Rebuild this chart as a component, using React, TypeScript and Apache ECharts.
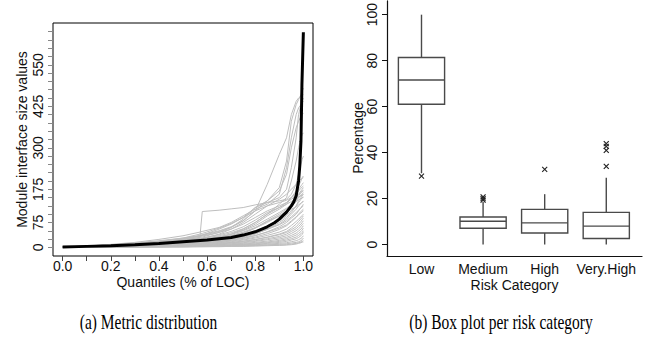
import React, { useEffect, useRef } from "react";
import * as echarts from "echarts";

// ---------- Left panel: metric distribution ----------
const quantiles = [0, 0.1, 0.2, 0.3, 0.4, 0.5, 0.57, 0.58, 0.65, 0.7, 0.75, 0.8, 0.85, 0.9, 0.93, 0.95, 0.97, 0.98, 0.99, 0.995, 1];

const grayLines: number[][] = [
  [1, 3, 6, 10, 15, 22, 30, 108, 112, 116, 120, 128, 135, 150, 175, 240, 330, 400, 430, 440, 450],
  [1, 4, 8, 13, 20, 28, 36, 38, 50, 62, 80, 110, 190, 280, 330, 400, 440, 450, 455, 458, 460],
  [1, 3, 6, 10, 15, 22, 30, 31, 45, 60, 85, 120, 140, 180, 260, 380, 430, 445, 460, 470, 480],
  [1, 4, 9, 15, 24, 35, 46, 48, 60, 75, 95, 115, 130, 160, 240, 330, 400, 420, 430, 435, 440],
  [1, 3, 7, 12, 18, 26, 34, 36, 48, 60, 80, 110, 140, 170, 220, 300, 360, 380, 395, 400, 405],
  [1, 2, 4, 7, 11, 16, 22, 23, 30, 40, 55, 75, 100, 130, 150, 200, 260, 300, 330, 340, 345],
  [1, 3, 6, 10, 16, 24, 35, 37, 55, 70, 90, 120, 135, 140, 145, 160, 190, 220, 250, 265, 275],
  [1, 2, 5, 8, 12, 18, 24, 25, 32, 40, 52, 70, 95, 115, 130, 150, 170, 185, 200, 210, 215],
  [1, 3, 5, 9, 14, 20, 26, 27, 35, 44, 56, 75, 100, 120, 135, 150, 165, 175, 185, 190, 195],
  [1, 2, 4, 6, 9, 13, 18, 19, 25, 32, 42, 58, 80, 100, 115, 130, 150, 160, 170, 175, 180],
  [1, 2, 3, 5, 8, 12, 16, 17, 22, 28, 36, 48, 65, 85, 100, 120, 140, 155, 165, 170, 172],
  [1, 3, 6, 11, 17, 25, 33, 34, 45, 55, 70, 90, 110, 125, 135, 145, 155, 160, 165, 168, 170],
  [1, 2, 4, 7, 11, 15, 20, 21, 27, 34, 44, 58, 75, 95, 110, 125, 140, 150, 158, 162, 165],
  [1, 2, 3, 5, 7, 10, 13, 14, 18, 23, 30, 40, 55, 75, 90, 105, 125, 140, 150, 155, 160],
  [1, 2, 4, 6, 9, 13, 17, 18, 23, 29, 37, 48, 62, 80, 95, 110, 125, 135, 145, 150, 152],
  [1, 3, 5, 8, 12, 17, 23, 24, 31, 39, 50, 65, 85, 105, 118, 128, 138, 143, 147, 149, 150],
  [1, 2, 3, 5, 8, 11, 15, 16, 20, 25, 32, 42, 55, 70, 85, 100, 115, 125, 132, 136, 140],
  [1, 2, 3, 4, 6, 9, 12, 13, 17, 21, 27, 35, 47, 62, 75, 88, 100, 110, 120, 125, 130],
  [1, 2, 4, 6, 9, 12, 16, 17, 21, 26, 33, 42, 54, 68, 80, 92, 105, 112, 118, 122, 125],
  [1, 1, 2, 4, 6, 8, 11, 12, 15, 19, 24, 31, 41, 54, 65, 77, 90, 100, 108, 112, 115],
  [1, 2, 3, 5, 7, 10, 13, 14, 18, 22, 28, 36, 46, 58, 68, 80, 92, 98, 104, 107, 110],
  [1, 2, 3, 4, 6, 8, 10, 11, 14, 17, 22, 28, 36, 46, 55, 66, 78, 85, 92, 96, 100],
  [1, 1, 2, 3, 5, 7, 9, 10, 12, 15, 19, 24, 31, 40, 48, 58, 70, 78, 86, 90, 95],
  [1, 2, 3, 4, 5, 7, 9, 9, 12, 14, 18, 23, 30, 38, 45, 53, 62, 70, 78, 83, 88],
  [1, 1, 2, 3, 4, 6, 8, 8, 10, 13, 16, 20, 26, 33, 40, 48, 56, 63, 70, 75, 80],
  [1, 1, 2, 3, 4, 5, 7, 7, 9, 11, 14, 18, 23, 29, 35, 42, 50, 56, 63, 68, 72],
  [1, 1, 2, 2, 3, 5, 6, 6, 8, 10, 12, 15, 19, 25, 30, 36, 43, 49, 55, 60, 65],
  [1, 1, 2, 2, 3, 4, 5, 5, 7, 8, 10, 13, 16, 21, 26, 31, 37, 42, 48, 52, 58],
  [1, 1, 1, 2, 3, 4, 5, 5, 6, 7, 9, 11, 14, 18, 22, 26, 31, 36, 41, 45, 50],
  [1, 1, 1, 2, 2, 3, 4, 4, 5, 6, 8, 9, 12, 15, 18, 22, 26, 30, 35, 39, 45],
  [1, 1, 1, 2, 2, 3, 3, 3, 4, 5, 6, 8, 10, 12, 14, 17, 20, 23, 27, 30, 35],
  [1, 1, 1, 1, 2, 2, 3, 3, 3, 4, 5, 6, 8, 9, 11, 13, 15, 17, 20, 23, 28],
  [1, 1, 1, 1, 1, 2, 2, 2, 3, 3, 4, 5, 6, 7, 8, 10, 12, 14, 16, 18, 20],
  [1, 1, 1, 1, 1, 1, 2, 2, 2, 3, 3, 4, 5, 6, 7, 8, 10, 12, 14, 16, 16],
  [1, 2, 4, 7, 11, 16, 21, 22, 28, 36, 46, 60, 78, 95, 105, 115, 122, 128, 133, 136, 138],
  [1, 3, 5, 9, 14, 20, 27, 28, 38, 48, 62, 82, 105, 120, 130, 138, 145, 150, 155, 158, 160],
  [1, 2, 4, 7, 12, 18, 26, 27, 40, 55, 75, 100, 125, 145, 160, 175, 190, 200, 205, 208, 210],
  [1, 3, 6, 11, 18, 28, 40, 42, 58, 72, 90, 110, 125, 135, 142, 150, 160, 170, 178, 182, 185],
];

const meanQuantiles = [0, 0.1, 0.2, 0.3, 0.4, 0.5, 0.6, 0.7, 0.75, 0.8, 0.85, 0.88, 0.9, 0.93, 0.95, 0.96, 0.97, 0.98, 0.985, 0.99, 0.994, 0.997, 1];
const meanValues = [1, 3, 5, 8, 12, 17, 22, 30, 37, 47, 62, 74, 85, 106, 125, 137, 155, 200, 245, 320, 490, 570, 648];

const leftYTicks = [0, 25, 50, 75, 100, 125, 150, 175, 200, 225, 250, 275, 300, 325, 350, 375, 400, 425, 450, 475, 500, 525, 550, 575, 600, 625, 650];
const leftYLabels = [0, 75, 175, 300, 425, 550];
const leftXTicks = [0, 0.1, 0.2, 0.3, 0.4, 0.5, 0.6, 0.7, 0.8, 0.9, 1];
const leftXLabels = [0, 0.2, 0.4, 0.6, 0.8, 1];

// ---------- Right panel: box plot per risk category ----------
const riskCategories = ["Low", "Medium", "High", "Very.High"];
// [lower whisker, Q1, median, Q3, upper whisker]
const boxLow = [31, 61, 71.6, 81.4, 100];
const boxMedium = [0, 7.1, 10.1, 12, 18.5];
const boxHigh = [0, 5, 9.4, 15.3, 21.9];
const boxVeryHigh = [0, 2.6, 8, 14, 29];
const outlierCategory = [1, 2, 2, 2, 3, 4, 4, 4, 4];
const outlierValues = [29.8, 19.3, 20, 20.7, 32.7, 34, 41, 42.7, 43.9];
const rightYTicks = [0, 20, 40, 60, 80, 100];
const rightXTicks = [1, 2, 3, 4];

const FONT = "'Liberation Sans', Arial, Helvetica, sans-serif";
const SERIF = "'Liberation Serif', 'Times New Roman', serif";

export default function App() {
  const ref = useRef<HTMLDivElement>(null);
  useEffect(() => {
    if (!ref.current) return;
    const chart = echarts.init(ref.current, undefined, { renderer: "svg" });

    const grayData = grayLines.map((ln) => ln.map((v, i) => [quantiles[i], v]));
    const meanData = meanValues.map((v, i) => [meanQuantiles[i], v]);
    const boxes = [boxLow, boxMedium, boxHigh, boxVeryHigh].map((s, i) => [i + 1, ...s]);
    const outs = outlierValues.map((v, i) => [outlierCategory[i], v]);

    const boxStroke = "#4a4a4a";
    const txt = { fontFamily: FONT, fontSize: 14, color: "#111" };

    const option: any = {
      animation: false,
      backgroundColor: "#fff",
      grid: [
        { left: 53, top: 23, width: 260, height: 233, show: true, borderColor: "#000", borderWidth: 1, backgroundColor: "transparent" },
        { left: 387, top: 0, width: 255, height: 256 },
      ],
      xAxis: [
        {
          gridIndex: 0, type: "value", min: -0.04, max: 1.04,
          axisLine: { show: false, onZero: false },
          axisTick: { show: true, customValues: leftXTicks, length: 5, lineStyle: { color: "#444", width: 1 } },
          axisLabel: { customValues: leftXLabels, formatter: (v: number) => v.toFixed(1), ...txt, margin: 3 },
          splitLine: { show: false },
          name: "Quantiles (% of LOC)", nameLocation: "middle", nameGap: 19, nameMoveOverlap: false,
          nameTextStyle: txt,
        },
        {
          gridIndex: 1, type: "value", min: 0.44, max: 4.58,
          axisLine: { show: true, onZero: false, lineStyle: { color: "#111", width: 1.2 } },
          axisTick: { show: false },
          axisLabel: { customValues: rightXTicks, formatter: (v: number) => riskCategories[Math.round(v) - 1] || "", ...txt, margin: 6 },
          splitLine: { show: false },
          name: "Risk Category", nameLocation: "middle", nameGap: 22, nameMoveOverlap: false,
          nameTextStyle: txt,
        },
      ],
      yAxis: [
        {
          gridIndex: 0, type: "value", min: -26, max: 676,
          axisLine: { show: false, onZero: false },
          axisTick: { show: true, customValues: leftYTicks, length: 5, lineStyle: { color: "#888", width: 1 } },
          axisLabel: { customValues: leftYLabels, rotate: 90, ...txt, margin: 8 },
          splitLine: { show: false },
          name: "Module interface size values", nameLocation: "middle", nameGap: 24, nameMoveOverlap: false,
          nameTextStyle: txt,
        },
        {
          gridIndex: 1, type: "value", min: -5, max: 106,
          axisLine: { show: true, onZero: false, lineStyle: { color: "#111", width: 1.2 } },
          axisTick: { show: true, customValues: rightYTicks, length: 5, lineStyle: { color: "#111", width: 1 } },
          axisLabel: { customValues: rightYTicks, rotate: 90, ...txt, margin: 8 },
          splitLine: { show: false },
        },
      ],
      series: [
        ...grayData.map((d) => ({
          type: "line", xAxisIndex: 0, yAxisIndex: 0, data: d, symbol: "none", silent: true,
          lineStyle: { color: "#bebebe", width: 1 }, z: 2,
        })),
        {
          type: "line", xAxisIndex: 0, yAxisIndex: 0, data: meanData, symbol: "none", silent: true,
          lineStyle: { color: "#000", width: 3 }, z: 3,
        },
        {
          type: "custom", xAxisIndex: 1, yAxisIndex: 1, data: boxes, silent: true,
          renderItem: (params: any, api: any) => {
            const x = api.value(0);
            const pLo = api.coord([x, api.value(1)]);
            const pQ1 = api.coord([x, api.value(2)]);
            const pMed = api.coord([x, api.value(3)]);
            const pQ3 = api.coord([x, api.value(4)]);
            const pHi = api.coord([x, api.value(5)]);
            const hw = api.size([0.75, 0])[0] / 2;
            const st = { stroke: boxStroke, lineWidth: 1.4, fill: "none" };
            return {
              type: "group",
              children: [
                { type: "line", shape: { x1: pLo[0], y1: pLo[1], x2: pQ1[0], y2: pQ1[1] }, style: st },
                { type: "line", shape: { x1: pQ3[0], y1: pQ3[1], x2: pHi[0], y2: pHi[1] }, style: st },
                { type: "rect", shape: { x: pQ3[0] - hw, y: pQ3[1], width: 2 * hw, height: pQ1[1] - pQ3[1] }, style: st },
                { type: "line", shape: { x1: pMed[0] - hw, y1: pMed[1], x2: pMed[0] + hw, y2: pMed[1] }, style: st },
              ],
            };
          },
        },
        {
          type: "custom", xAxisIndex: 1, yAxisIndex: 1, data: outs, silent: true,
          renderItem: (params: any, api: any) => {
            const p = api.coord([api.value(0), api.value(1)]);
            const s = 2.5;
            const st = { stroke: "#222", lineWidth: 1.1 };
            return {
              type: "group",
              children: [
                { type: "line", shape: { x1: p[0] - s, y1: p[1] - s, x2: p[0] + s, y2: p[1] + s }, style: st },
                { type: "line", shape: { x1: p[0] - s, y1: p[1] + s, x2: p[0] + s, y2: p[1] - s }, style: st },
              ],
            };
          },
        },
      ],
      graphic: [
        { type: "text", x: 358, y: 138, rotation: Math.PI / 2, style: { text: "Percentage", font: `14px ${FONT}`, fill: "#111", textAlign: "center", textVerticalAlign: "middle" } },
        { type: "text", x: 148.5, y: 322, scaleX: 0.72, style: { text: "(a) Metric distribution", font: `21.5px ${SERIF}`, fill: "#000", textAlign: "center", textVerticalAlign: "middle" } },
        { type: "text", x: 501, y: 322, scaleX: 0.72, style: { text: "(b) Box plot per risk category", font: `21.5px ${SERIF}`, fill: "#000", textAlign: "center", textVerticalAlign: "middle" } },
      ],
    };
    chart.setOption(option);
    return () => chart.dispose();
  }, []);
  return <div ref={ref} style={{ position: "absolute", left: 0, top: 0, width: 650, height: 339 }} />;
}
